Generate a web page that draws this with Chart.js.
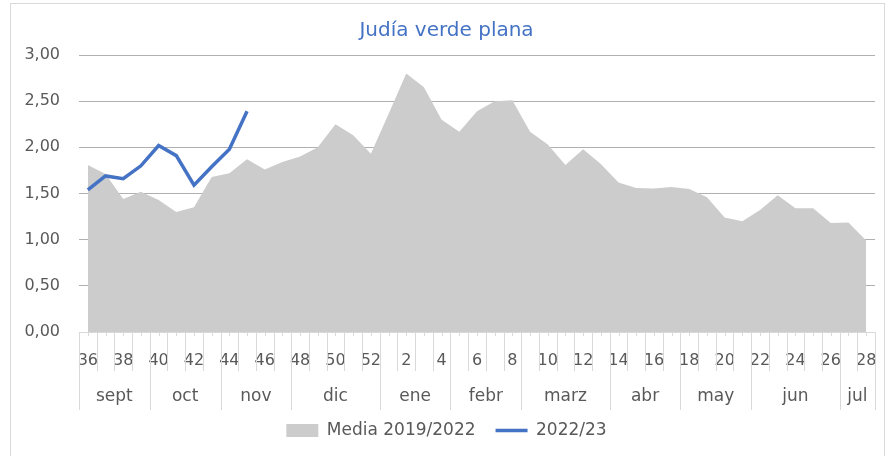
<!DOCTYPE html>
<html>
<head>
<meta charset="utf-8">
<script src="https://cdn.jsdelivr.net/npm/chart.js@4.4.0/dist/chart.umd.min.js"></script>
<style>
    html, body { margin: 0; padding: 0; background: #fff; }
    #graficoContainer { width: 886px; height: 456px; }
</style>
</head>
<body>
<div id="graficoContainer"><canvas id="graficoJudia" width="886" height="456"></canvas></div>
<script>
const semanas = ['36', '37', '38', '39', '40', '41', '42', '43', '44', '45', '46', '47', '48', '49', '50', '51', '52',
    '1', '2', '3', '4', '5', '6', '7', '8', '9', '10', '11', '12', '13', '14', '15', '16', '17', '18', '19', '20',
    '21', '22', '23', '24', '25', '26', '27', '28'];
const media20192022 = [1.81, 1.71, 1.44, 1.52, 1.43, 1.30, 1.35, 1.68, 1.72, 1.87, 1.76, 1.84, 1.90, 2.00, 2.25, 2.13, 1.93,
    2.36, 2.80, 2.65, 2.30, 2.17, 2.39, 2.50, 2.51, 2.17, 2.03, 1.81, 1.98, 1.82, 1.62, 1.56, 1.555, 1.57, 1.55, 1.46, 1.24,
    1.20, 1.32, 1.48, 1.34, 1.34, 1.18, 1.185, 0.99];
const campana2223 = [1.54, 1.69, 1.66, 1.80, 2.02, 1.91, 1.59, 1.79, 1.98, 2.39];
const meses = ['sept', 'oct', 'nov', 'dic', 'ene', 'febr', 'marz', 'abr', 'may', 'jun', 'jul'];
const semanasPorMes = [4, 4, 4, 5, 4, 4, 5, 4, 4, 5, 2];

const fuente = "'DejaVu Sans', sans-serif";
const gris = '#595959';

// marco exterior y eje de dos niveles (semanas / meses)
const marco = {
    id: 'marco',
    beforeDraw(chart) {
        const ctx = chart.ctx;
        ctx.save();
        ctx.fillStyle = '#fff';
        ctx.fillRect(0, 0, chart.width, chart.height);
        ctx.strokeStyle = '#d9d9d9';
        ctx.lineWidth = 1;
        ctx.strokeRect(10.5, 3.5, 874, 500);
        ctx.restore();
    }
};

const ejeMeses = {
    id: 'ejeMeses',
    afterDraw(chart) {
        const ctx = chart.ctx;
        const x = chart.scales.x;
        const fondo = chart.chartArea.bottom;
        const ancho = x.getPixelForValue(1) - x.getPixelForValue(0);
        const inicio = x.getPixelForValue(0) - ancho / 2;

        ctx.save();
        ctx.strokeStyle = '#d9d9d9';
        ctx.lineWidth = 1;
        ctx.beginPath();
        for (let i = 0; i <= semanas.length; i++) {
            const px = Math.round(inicio + i * ancho) + 0.5;
            ctx.moveTo(px, fondo);
            ctx.lineTo(px, fondo + 39);
        }
        for (let i = 0; i < semanas.length; i++) {
            const px = Math.round(x.getPixelForValue(i)) + 0.5;
            ctx.moveTo(px, fondo);
            ctx.lineTo(px, fondo + 4);
        }
        let acumulado = 0;
        const limites = [0];
        semanasPorMes.forEach(n => { acumulado += n; limites.push(acumulado); });
        limites.forEach(k => {
            const px = Math.round(inicio + k * ancho) + 0.5;
            ctx.moveTo(px, fondo);
            ctx.lineTo(px, fondo + 78);
        });
        ctx.stroke();

        ctx.fillStyle = gris;
        ctx.font = "17px " + fuente;
        ctx.textAlign = 'center';
        ctx.textBaseline = 'middle';
        meses.forEach((mes, j) => {
            const centro = inicio + (limites[j] + limites[j + 1]) / 2 * ancho;
            ctx.fillText(mes, centro, fondo + 65);
        });
        ctx.restore();
    }
};

const ctx = document.getElementById('graficoJudia').getContext('2d');
const chart = new Chart(ctx, {
    type: 'line',
    data: {
        labels: semanas,
        datasets: [
            {
                label: 'Media 2019/2022',
                data: media20192022,
                backgroundColor: '#cccccc',
                borderColor: '#cccccc',
                borderWidth: 0,
                fill: 'origin',
                pointRadius: 0,
                pointStyle: 'rect',
                order: 2
            },
            {
                label: '2022/23',
                data: campana2223,
                borderColor: '#4472C4',
                backgroundColor: '#4472C4',
                borderWidth: 3.5,
                fill: false,
                pointRadius: 0,
                pointStyle: 'line',
                order: 1
            }
        ]
    },
    options: {
        responsive: false,
        animation: false,
        layout: { padding: { left: 18, right: 11, top: 0, bottom: 7 } },
        plugins: {
            title: {
                display: true,
                text: 'Judía verde plana',
                color: '#4472C4',
                font: { family: fuente, size: 20, weight: 'normal' },
                padding: { top: 19, bottom: 12 }
            },
            legend: {
                position: 'bottom',
                labels: {
                    usePointStyle: true,
                    pointStyleWidth: 32,
                    boxHeight: 13,
                    padding: 20,
                    color: gris,
                    font: { family: fuente, size: 17 },
                    sort: (a, b) => a.datasetIndex - b.datasetIndex
                }
            },
            tooltip: { enabled: false }
        },
        scales: {
            x: {
                offset: true,
                grid: { display: false },
                border: { display: false },
                ticks: {
                    autoSkip: false,
                    maxRotation: 0,
                    padding: 11,
                    color: gris,
                    font: { family: fuente, size: 16 },
                    callback: (v, i) => (i % 2 === 0 ? semanas[i] : '')
                },
                afterFit: (scale) => {
                    scale.height = 70;
                    scale.paddingLeft = 0;
                    scale.paddingRight = 0;
                }
            },
            y: {
                min: 0,
                max: 3,
                grid: {
                    drawTicks: false,
                    color: (c) => (c.tick && c.tick.value === 0 ? '#d9d9d9' : '#b0b0b0'),
                    lineWidth: 1
                },
                border: { display: false },
                ticks: {
                    stepSize: 0.5,
                    padding: 19,
                    color: gris,
                    font: { family: fuente, size: 16 },
                    callback: (v) => v.toFixed(2).replace('.', ',')
                },
                afterFit: (scale) => { scale.width = 61; }
            }
        }
    },
    plugins: [marco, ejeMeses]
});
</script>
</body>
</html>
